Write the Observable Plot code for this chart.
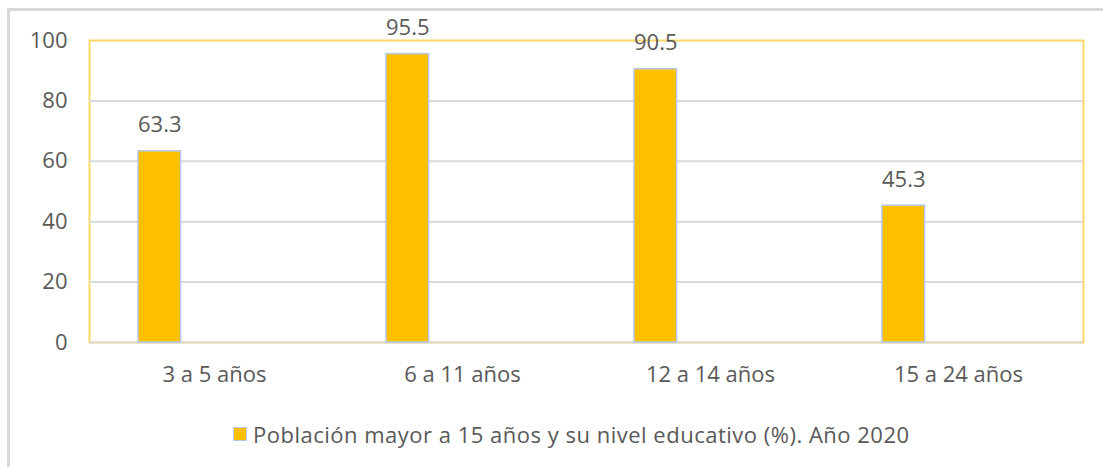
<!DOCTYPE html>
<html><head><meta charset="utf-8">
<script src="https://cdn.jsdelivr.net/npm/d3@7"></script>
<script src="https://cdn.jsdelivr.net/npm/@observablehq/plot@0.6"></script>
<style>
body{margin:0;background:#fff;font-family:"Open Sans",sans-serif;}
#wrap{position:relative;width:1103px;height:467px;overflow:hidden;background:#fff;}
#border{position:absolute;left:7px;top:8px;width:1200px;height:600px;border:3px solid #d9d9d9;box-sizing:border-box;}
#chart{position:absolute;left:0;top:0;}
#legend{position:absolute;top:419px;left:233px;display:flex;align-items:center;color:#595959;font-size:22px;white-space:nowrap;}
#legend .sw{width:12px;height:12px;background:#FFC000;border:1.5px solid #B4C7E7;margin-right:6px;}
#legtext{letter-spacing:0.5px;}
</style></head>
<body>
<div id="wrap">
  <div id="border"></div>
  <div id="chart"></div>
  <div id="legend"><span class="sw"></span><span id="legtext"></span></div>
</div>
<script>
const categories = ["3 a 5 años", "6 a 11 años", "12 a 14 años", "15 a 24 años"];
const values = [63.3, 95.5, 90.5, 45.3];
const seriesName = "Población mayor a 15 años y su nivel educativo (%). Año 2020";
const yTicks = [0, 20, 40, 60, 80, 100];
const gridTicks = [0, 20, 40, 60, 80];

const data = categories.map((c, i) => ({cat: c, value: values[i]}));
const insetL = 48, insetR = 157.5;

const chart = Plot.plot({
  width: 1103,
  height: 400,
  marginLeft: 89,
  marginRight: 20,
  marginTop: 40,
  marginBottom: 58,
  style: {fontFamily: "'Open Sans', sans-serif", fontSize: "22px", color: "#595959", background: "transparent", overflow: "visible"},
  x: {domain: categories, padding: 0, label: null},
  y: {domain: [0, 100], label: null},
  marks: [
    Plot.frame({stroke: "#FFD966", strokeWidth: 2}),
    Plot.ruleY(gridTicks, {stroke: "#d9d9d9", strokeWidth: 2}),
    Plot.axisY({ticks: yTicks, tickSize: 0, tickPadding: 22, label: null, fontSize: 22}),
    Plot.axisX({tickSize: 0, tickPadding: 24, label: null, fontSize: 22}),
    Plot.barY(data, {x: "cat", y: "value", fill: "#FFC000", stroke: "#B4C7E7", strokeWidth: 1.5, insetLeft: insetL, insetRight: insetR}),
    Plot.text(data, {x: "cat", y: "value", text: d => d.value.toFixed(1), dx: (insetL - insetR) / 2, dy: -26, fill: "#595959", fontSize: 22})
  ]
});
document.getElementById("chart").appendChild(chart);
document.getElementById("legtext").textContent = seriesName;
</script>
</body></html>
